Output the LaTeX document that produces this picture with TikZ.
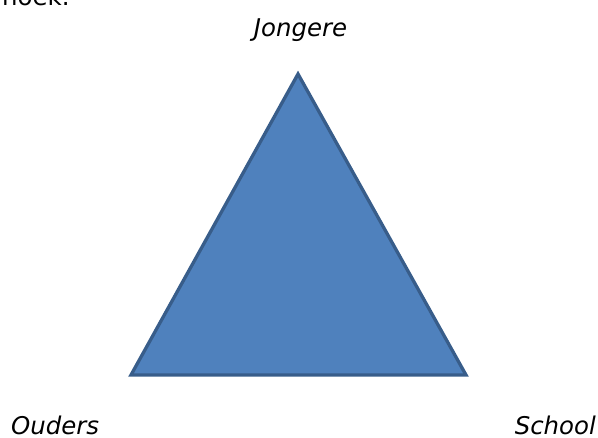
\documentclass[tikz,border=0pt]{standalone}
\usepackage{fontspec}
\setmainfont{DejaVu Sans}
\definecolor{trifill}{HTML}{4F81BD}
\definecolor{tristroke}{HTML}{385D8A}
\begin{document}
\begin{tikzpicture}[x=1bp,y=-1bp,
  lbl/.style={inner sep=0pt,font=\fontsize{24.5}{28}\selectfont\itshape},
  bodytxt/.style={inner sep=0pt,font=\fontsize{24.5}{28}\selectfont}]
\useasboundingbox (0,0) rectangle (598,438);
\begin{scope}
\clip (0,0) rectangle (598,438);
\node[bodytxt,anchor=base west] (hoek) at (2,6) {hoek.};
\end{scope}
\coordinate (top) at (298,74);
\coordinate (bl) at (131,375);
\coordinate (br) at (466,375);
\draw[fill=trifill,draw=tristroke,line width=3.3bp,line join=miter] (top) -- (br) -- (bl) -- cycle;
\node[lbl,anchor=base] (jongere) at (300.5,36.5) {Jongere};
\node[lbl,anchor=base west] (ouders) at (11,434.5) {Ouders};
\node[lbl,anchor=base east] (school) at (596,434.5) {School};
\end{tikzpicture}
\end{document}
